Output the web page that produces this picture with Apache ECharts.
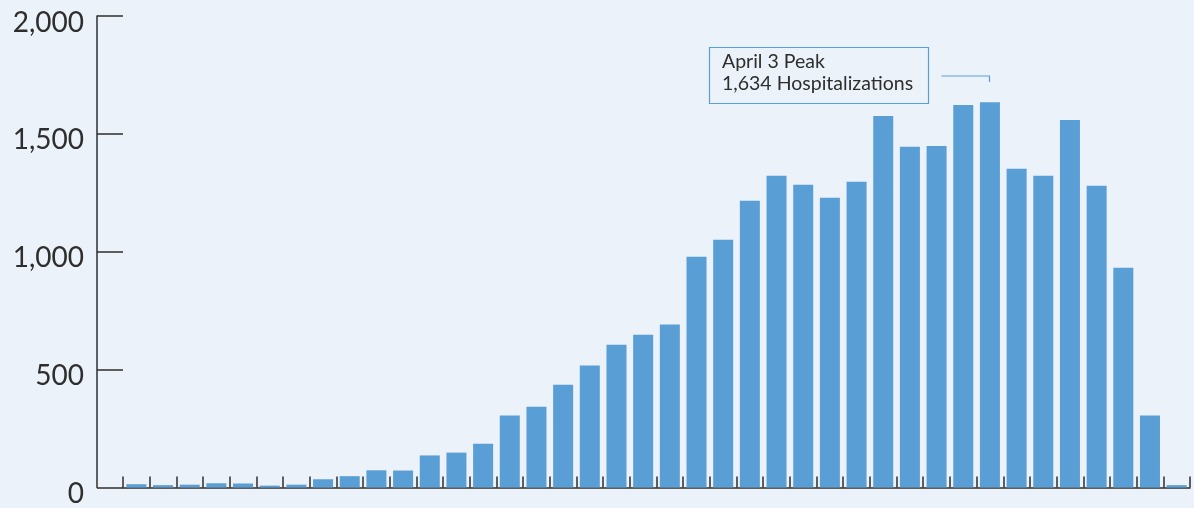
<!DOCTYPE html>
<html>
<head>
<meta charset="utf-8">
<script src="https://cdn.jsdelivr.net/npm/echarts@6/dist/echarts.min.js"></script>
<style>
html,body{margin:0;padding:0;background:#ebf2fa;}
#chart{width:1194px;height:508px;}
</style>
</head>
<body>
<div id="chart"></div>
<script>
const categories = ["Mar 2","Mar 3","Mar 4","Mar 5","Mar 6","Mar 7","Mar 8","Mar 9","Mar 10","Mar 11",
  "Mar 12","Mar 13","Mar 14","Mar 15","Mar 16","Mar 17","Mar 18","Mar 19","Mar 20","Mar 21",
  "Mar 22","Mar 23","Mar 24","Mar 25","Mar 26","Mar 27","Mar 28","Mar 29","Mar 30","Mar 31",
  "Apr 1","Apr 2","Apr 3","Apr 4","Apr 5","Apr 6","Apr 7","Apr 8","Apr 9","Apr 10"];
const hospitalizations = [14,10,12,18,17,8,12,35,48,73,
  72,136,148,186,305,343,436,517,606,648,
  691,979,1051,1216,1322,1284,1229,1297,1576,1445,
  1449,1623,1634,1352,1322,1559,1280,932,305,10];
const yTicks = [0,500,1000,1500,2000];
const peakIndex = 32;
const annotationLines = ["April 3 Peak","1,634 Hospitalizations"];

const chart = echarts.init(document.getElementById('chart'));
const dark = '#2e2e2e';
const blue = '#599fd6';
chart.setOption({
  backgroundColor: '#ebf2fa',
  animation: false,
  grid: {left: 123, right: 4, top: 16, bottom: 20},
  xAxis: {
    type: 'category',
    data: categories,
    boundaryGap: true,
    axisLine: {show: true, lineStyle: {color: dark, width: 1.5}},
    axisTick: {show: true, inside: true, length: 11, alignWithLabel: false, interval: 0, lineStyle: {color: dark, width: 1.5}},
    axisLabel: {show: false},
    splitLine: {show: false}
  },
  yAxis: {
    type: 'value',
    min: yTicks[0],
    max: yTicks[yTicks.length - 1],
    interval: yTicks[1] - yTicks[0],
    offset: 26,
    axisLine: {show: true, lineStyle: {color: dark, width: 1.5}},
    axisTick: {show: true, inside: true, length: 26, lineStyle: {color: dark, width: 1.5}},
    axisLabel: {
      margin: 13,
      color: dark,
      fontFamily: 'Lato',
      fontSize: 28,
      verticalAlign: 'top',
      lineHeight: 13,
      formatter: v => v.toLocaleString('en-US')
    },
    splitLine: {show: false}
  },
  series: [{
    type: 'bar',
    data: hospitalizations,
    barCategoryGap: '25%',
    itemStyle: {color: blue}
  }]
});

const peakPt = chart.convertToPixel({seriesIndex: 0}, [peakIndex, hospitalizations[peakIndex]]);
const cx = Math.round(peakPt[0]) - 0.5;
const cy = Math.round(peakPt[1]);
chart.setOption({
  graphic: [
    {
      type: 'rect',
      shape: {x: 709.5, y: 47.5, width: 219, height: 56},
      style: {fill: 'none', stroke: blue, lineWidth: 1.2}
    },
    {
      type: 'text',
      x: 722, y: 51,
      style: {
        text: annotationLines.join('\n'),
        fontFamily: 'Lato',
        fontSize: 19.5,
        lineHeight: 22,
        fill: dark
      }
    },
    {
      type: 'polyline',
      shape: {points: [[cx - 48, cy - 26], [cx, cy - 26], [cx, cy - 20]]},
      style: {fill: 'none', stroke: blue, lineWidth: 1.2}
    }
  ]
});
</script>
</body>
</html>
